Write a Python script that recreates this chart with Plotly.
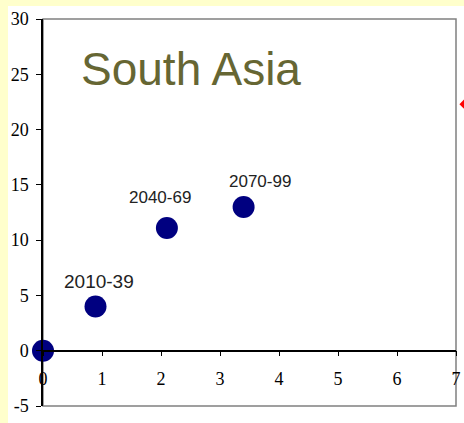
import plotly.graph_objects as go

x_vals = [0, 0.89, 2.1, 3.4]
y_vals = [0, 4, 11.1, 13]
point_labels = ["", "2010-39", "2040-69", "2070-99"]
label_sizes = [17, 19, 17, 17]
label_shift_x = [0, 3, -7, 16]
label_shift_y = [0, 25, 30, 25]

red_x = [7.19]
red_y = [22.3]

x_ticks = [0, 1, 2, 3, 4, 5, 6, 7]
y_ticks = [-5, 0, 5, 10, 15, 20, 25, 30]
y_tick_text = ["-5", "0", "5", "10", "15", "20", "25", "30"]

W, H = 464, 423
L, T, B = 43, 19, 17
plot_w = 413                 # pixel width of the main plot area
pw = W - L                   # paper width (right margin 0)
ph = H - T - B
dom = plot_w / pw

fig = go.Figure()
fig.add_trace(go.Scatter(x=x_vals, y=y_vals, mode="markers",
                         marker=dict(size=22, color="#000080"),
                         cliponaxis=False, showlegend=False, hoverinfo="skip"))
# red marker that sits just past the right edge, on an invisible overlay subplot
fig.add_trace(go.Scatter(x=red_x, y=red_y, mode="markers", xaxis="x2", yaxis="y2",
                         marker=dict(size=12, color="#FF0000", symbol="diamond"),
                         cliponaxis=True, showlegend=False, hoverinfo="skip"))

for xv, yv, t, s, dx, dy in zip(x_vals, y_vals, point_labels, label_sizes, label_shift_x, label_shift_y):
    if t:
        fig.add_annotation(x=xv, y=yv, text=t, showarrow=False, xshift=dx, yshift=dy,
                           font=dict(family="Liberation Sans, Arial", size=s, color="#222222"))

fig.add_annotation(x=36 / pw, y=0.942, xref="paper", yref="paper", xanchor="left", yanchor="top",
                   text="South Asia", showarrow=False,
                   font=dict(family="Liberation Sans, Arial", size=46, color="#666633"))

# white page region (yellow strips at left and top)
fig.add_shape(type="rect", xref="paper", yref="paper", layer="below",
              x0=(8 - L) / pw, x1=1.05, y0=-(B + 5) / ph, y1=1 + (T - 6) / ph,
              fillcolor="white", line=dict(width=0))
# plot border
fig.add_shape(type="rect", xref="paper", yref="paper", layer="below",
              x0=0, x1=dom, y0=0, y1=1, line=dict(color="#808080", width=1.5))

zero_pos = (0 - (-5)) / 35

fig.update_layout(
    width=W, height=H,
    margin=dict(l=L, r=0, t=T, b=B, autoexpand=False),
    paper_bgcolor="#FFFFCC", plot_bgcolor="rgba(0,0,0,0)",
    xaxis=dict(range=[0, 7], domain=[0, dom], tickvals=x_ticks, showgrid=False, zeroline=False,
               automargin=False, anchor="free", position=zero_pos, showline=True,
               linecolor="black", linewidth=1.5,
               ticks="outside", ticklen=5, tickcolor="black", ticklabelstandoff=7,
               tickfont=dict(family="Liberation Serif, Times New Roman", size=18, color="black")),
    yaxis=dict(range=[-5, 30], tickvals=y_ticks, ticktext=y_tick_text, showgrid=False,
               zeroline=False, automargin=False,
               showline=True, linecolor="black", linewidth=1.5,
               ticks="outside", ticklen=5, tickcolor="black", ticklabelstandoff=4,
               tickfont=dict(family="Liberation Serif, Times New Roman", size=18, color="black")),
    xaxis2=dict(range=[0, 7 / dom], domain=[0, 1], anchor="y2", visible=False, automargin=False),
    yaxis2=dict(range=[-5, 30], domain=[0, 1], anchor="x2", visible=False, automargin=False),
)

fig.write_html("out.html", config={"displayModeBar": False},
               post_script="document.body.style.margin='0';document.body.style.overflow='hidden';")
